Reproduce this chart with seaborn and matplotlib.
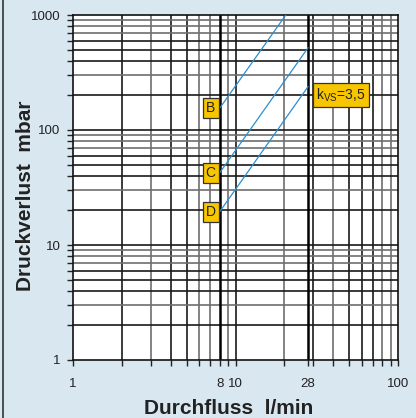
import matplotlib
matplotlib.use("Agg")
import matplotlib.pyplot as plt
import seaborn as sns
import pandas as pd
import numpy as np

# ---- data ----
curve_names = ["B", "C", "D"]
flow_start = [8, 8, 8]
flow_end = [20.4, 28, 28]
dp_start = [155, 42.5, 19.5]
dp_end = [1000, 521, 239]
kvs_label = "3,5"
x_tick_values = [1, 8, 10, 28, 100]
x_tick_labels = ["1", "8", "10", "28", "100"]
y_tick_values = [1, 10, 100, 1000]
y_tick_labels = ["1", "10", "100", "1000"]
x_label = "Durchfluss  l/min"
y_label = "Druckverlust  mbar"

rows = []
for n, x0, x1, y0, y1 in zip(curve_names, flow_start, flow_end, dp_start, dp_end):
    rows.append({"curve": n, "flow": x0, "dp": y0})
    rows.append({"curve": n, "flow": x1, "dp": y1})
df = pd.DataFrame(rows)

sns.set_theme(style="white")
plt.rcParams["font.family"] = ["Liberation Sans", "DejaVu Sans"]
plt.rcParams["mathtext.fontset"] = "custom"
plt.rcParams["mathtext.rm"] = "Liberation Sans"

BG = "#d8e7f0"
fig = plt.figure(figsize=(4.16, 4.18), dpi=100, facecolor=BG)
ax = fig.add_axes([73/416, 1-360/418, (398-73)/416, (360-15)/418])
ax.set_facecolor("white")
ax.set_xscale("log")
ax.set_yscale("log")
ax.set_xlim(1, 100)
ax.set_ylim(1, 1000)

# grid lines
dark = "#1a1a1a"
gray = "#6e6e6e"
xgrid = {2: dark, 3: gray, 4: dark, 5: dark, 6: gray, 7: gray, 9: gray,
         20: gray, 30: dark, 40: gray, 50: dark, 60: dark, 70: dark, 80: gray, 90: gray}
for v, c in xgrid.items():
    ax.axvline(v, color=c, lw=1.2, zorder=1)
ax.axvline(10, color=dark, lw=1.2, zorder=1)
for v in [8, 28]:
    ax.axvline(v, color="black", lw=1.8, zorder=1.5)
ygrid_cols = {2: dark, 3: gray, 4: dark, 5: dark, 6: dark, 7: gray, 8: gray, 9: gray}
for dec in [1, 10, 100]:
    for m, c in ygrid_cols.items():
        ax.axhline(m*dec, color=c, lw=1.2, zorder=1)
    if dec > 1:
        ax.axhline(dec, color=dark, lw=1.2, zorder=1)

sns.lineplot(data=df, x="flow", y="dp", units="curve", estimator=None,
             color="#2b8fd0", lw=0.9, ax=ax, zorder=3)

box = dict(boxstyle="square,pad=0.22", fc="#f7c600", ec="#333333", lw=0.9)
for n, y0 in zip(curve_names, dp_start):
    ax.annotate(n, xy=(8, y0), xytext=(-3, 0), textcoords="offset points",
                ha="right", va="center", fontsize=10, color="#222222", bbox=box, zorder=4)
ax.text(44.6, 201, r"k$_{\mathregular{VS}}$=" + kvs_label, ha="center", va="center",
        fontsize=10, color="#222222", bbox=dict(boxstyle="square,pad=0.25", fc="#f7c600",
        ec="#333333", lw=0.9), zorder=4)

ax.set_xticks(x_tick_values)
ax.set_xticklabels(x_tick_labels)
ax.set_yticks(y_tick_values)
ax.set_yticklabels(y_tick_labels)
ax.xaxis.set_minor_locator(matplotlib.ticker.LogLocator(base=10, subs=np.arange(2, 10)))
ax.yaxis.set_minor_locator(matplotlib.ticker.LogLocator(base=10, subs=np.arange(2, 10)))
ax.xaxis.set_minor_formatter(matplotlib.ticker.NullFormatter())
ax.yaxis.set_minor_formatter(matplotlib.ticker.NullFormatter())
ax.tick_params(axis="both", which="both", direction="out", length=4, width=1,
               color="#222222", labelsize=9.5, labelcolor="#222222", bottom=True, left=True)
ax.tick_params(axis="x", pad=9)
ax.tick_params(axis="y", pad=5)
for s in ax.spines.values():
    s.set_color("#111111")
    s.set_linewidth(1.2)

ax.set_xlabel(x_label, fontsize=15, fontweight="bold", color="#222222", va="center")
ax.set_ylabel(y_label, fontsize=15, fontweight="bold", color="#222222", va="center")
ax.xaxis.set_label_coords(0.478, (360-409)/345)
ax.yaxis.set_label_coords((26-73)/325, 0.475)

fig.add_artist(plt.Line2D([3/416, 3/416], [0, 1], color="#333333", lw=1.2, transform=fig.transFigure))

fig.savefig("out.png", dpi=100, facecolor=BG)
